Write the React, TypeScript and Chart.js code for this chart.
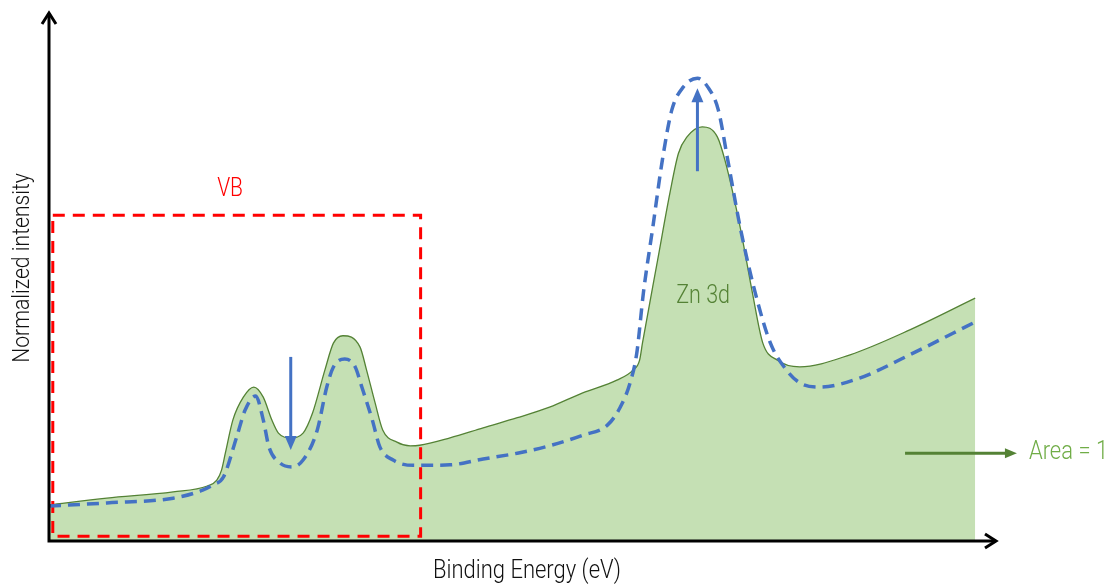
import React, { useEffect, useRef } from "react";
import { Chart, registerables } from "chart.js";

Chart.register(...registerables);

// Spectrum of the reference sample (solid, filled), arbitrary units
const refEnergy = [0, 6.1, 13.1, 16.7, 17.7, 18.2, 18.6, 19.4, 20.5, 21.6, 22.6, 23.5, 24.2, 25.5, 26.8, 27.8, 29.1, 30.0, 31.0, 32.8, 33.5, 34.4, 35.2, 36.7, 38.1, 39.1, 42.3, 45.8, 49.4, 52.8, 56.3, 59.9, 61.6, 62.3, 62.6, 64.2, 65.5, 66.4, 67.3, 68.9, 70.5, 71.3, 72.9, 74.2, 75.3, 76.8, 79.2, 84.5, 90.8, 97.7];
const refIntensity = [6.8, 8.1, 9.3, 10.4, 11.5, 13.4, 16.6, 22.9, 27.2, 29.1, 27.2, 22.9, 20.4, 19.5, 20.4, 24.2, 32.3, 37.4, 38.8, 36.7, 32.3, 26.1, 21.0, 18.7, 18.0, 18.1, 19.5, 21.4, 23.3, 25.3, 28.0, 30.4, 32.3, 34.2, 37.4, 53.1, 65.8, 73.3, 76.4, 78.3, 76.4, 72.0, 59.4, 46.9, 37.4, 34.2, 32.9, 35.2, 39.9, 45.9];

// Spectrum of the modified sample (dashed), arbitrary units
const modEnergy = [0, 6.1, 13.1, 16.2, 17.3, 18.4, 19.8, 20.7, 21.8, 22.6, 23.2, 24.4, 25.6, 26.8, 28.3, 29.3, 30.0, 31.2, 32.3, 33.0, 34.1, 34.9, 36.3, 38.4, 42.3, 45.8, 49.4, 52.8, 56.3, 58.9, 60.2, 61.3, 62.0, 62.7, 63.7, 64.7, 65.7, 66.9, 68.4, 69.5, 70.6, 71.6, 72.9, 74.5, 76.1, 77.8, 79.2, 81.3, 85.5, 90.8, 97.7];
const modIntensity = [6.6, 7.2, 8.1, 9.6, 10.6, 12.1, 19.7, 24.8, 27.4, 22.9, 17.8, 14.7, 14.0, 15.3, 21.0, 29.1, 32.9, 34.4, 32.9, 29.1, 22.9, 17.8, 15.3, 14.3, 14.4, 15.5, 16.6, 18.0, 20.0, 21.9, 25.1, 29.9, 35.5, 46.9, 59.4, 72.0, 81.5, 85.8, 87.5, 85.8, 81.5, 72.0, 59.4, 46.9, 37.4, 32.3, 29.9, 29.1, 30.8, 35.2, 41.4];

// Valence band window
const vbEnergyRange = [0.4, 39.2];
const vbIntensityRange = [0.9, 61.6];

// Intensity changes marked with arrows: [energy, from, to]
const vbChange = [25.5, 34.8, 17.2];
const znChange = [68.4, 69.9, 85.6];
// Area marker arrow: [fromEnergy, toEnergy, intensity]
const areaMarker = [90.3, 102.1, 16.6];

const FONT = "Roboto, 'Liberation Sans', sans-serif";
const GREEN_LINE = "#548235";
const GREEN_FILL = "#C5E0B4";
const GREEN_TEXT = "#70AD47";
const BLUE = "#4472C4";
const RED = "#FF0000";

function pts(xs: number[], ys: number[]) {
  return xs.map((x, i) => ({ x, y: ys[i] }));
}

function arrowHead(ctx: CanvasRenderingContext2D, tipX: number, tipY: number, dx: number, dy: number, len: number, half: number) {
  const bx = tipX - dx * len;
  const by = tipY - dy * len;
  ctx.beginPath();
  ctx.moveTo(tipX, tipY);
  ctx.lineTo(bx - dy * half, by + dx * half);
  ctx.lineTo(bx + dy * half, by - dx * half);
  ctx.closePath();
  ctx.fill();
}

// Condensed text: draw with a horizontal squeeze
function narrowText(ctx: CanvasRenderingContext2D, text: string, x: number, y: number, squeeze: number) {
  ctx.save();
  ctx.translate(x, y);
  ctx.scale(squeeze, 1);
  ctx.fillText(text, 0, 0);
  ctx.restore();
}

const vbBoxPlugin = {
  id: "vbBox",
  afterDatasetDraw(chart: any, args: any) {
    if (args.index !== 1) return;
    const { ctx, scales } = chart;
    const x0 = scales.x.getPixelForValue(vbEnergyRange[0]);
    const x1 = scales.x.getPixelForValue(vbEnergyRange[1]);
    const y0 = scales.y.getPixelForValue(vbIntensityRange[1]);
    const y1 = scales.y.getPixelForValue(vbIntensityRange[0]);
    ctx.save();
    ctx.strokeStyle = RED;
    ctx.lineWidth = 3;
    ctx.setLineDash([12, 8]);
    ctx.strokeRect(x0, y0, x1 - x0, y1 - y0);
    ctx.restore();
  },
};

const decorPlugin = {
  id: "decor",
  afterDraw(chart: any) {
    const { ctx, scales, chartArea } = chart;
    const sx = (v: number) => scales.x.getPixelForValue(v);
    const sy = (v: number) => scales.y.getPixelForValue(v);
    ctx.save();

    // Intensity change arrows
    ctx.strokeStyle = BLUE;
    ctx.fillStyle = BLUE;
    ctx.lineWidth = 3;
    ctx.setLineDash([]);
    {
      const x = sx(vbChange[0]);
      const yFrom = sy(vbChange[1]);
      const yTo = sy(vbChange[2]);
      ctx.beginPath();
      ctx.moveTo(x, yFrom);
      ctx.lineTo(x, yTo - 10);
      ctx.stroke();
      arrowHead(ctx, x, yTo, 0, 1, 14, 6);
    }
    {
      const x = sx(znChange[0]);
      const yFrom = sy(znChange[1]);
      const yTo = sy(znChange[2]);
      ctx.beginPath();
      ctx.moveTo(x, yFrom);
      ctx.lineTo(x, yTo + 10);
      ctx.stroke();
      arrowHead(ctx, x, yTo, 0, -1, 14, 6);
    }

    // Area marker arrow
    ctx.strokeStyle = GREEN_LINE;
    ctx.fillStyle = GREEN_LINE;
    ctx.lineWidth = 3;
    {
      const xA = sx(areaMarker[0]);
      const xB = sx(areaMarker[1]);
      const y = sy(areaMarker[2]);
      ctx.beginPath();
      ctx.moveTo(xA, y);
      ctx.lineTo(xB - 8, y);
      ctx.stroke();
      arrowHead(ctx, xB, y, 1, 0, 12, 5);
    }

    // Axes with open arrow heads
    const L = chartArea.left;
    const B = chartArea.bottom;
    const T = chartArea.top;
    const R = chartArea.right;
    ctx.strokeStyle = "#000";
    ctx.lineWidth = 3;
    ctx.lineCap = "butt";
    ctx.beginPath();
    ctx.moveTo(L, B + 1.5);
    ctx.lineTo(L, T + 1);
    ctx.moveTo(L - 1.5, B);
    ctx.lineTo(R - 1, B);
    ctx.stroke();
    ctx.lineJoin = "miter";
    ctx.beginPath();
    ctx.moveTo(L - 7, T + 12);
    ctx.lineTo(L, T + 1);
    ctx.lineTo(L + 7, T + 12);
    ctx.moveTo(R - 12, B - 7);
    ctx.lineTo(R - 1, B);
    ctx.lineTo(R - 12, B + 7);
    ctx.stroke();

    // Annotations
    ctx.textBaseline = "middle";
    ctx.textAlign = "center";
    ctx.font = `300 25px ${FONT}`;
    ctx.fillStyle = RED;
    narrowText(ctx, "VB", sx(19.1), sy(66.4), 0.84);
    ctx.fillStyle = GREEN_LINE;
    narrowText(ctx, "Zn 3d", sx(69.0), sy(46.1), 0.86);
    ctx.textAlign = "left";
    ctx.fillStyle = GREEN_TEXT;
    narrowText(ctx, "Area = 1", sx(areaMarker[1]) + 12, sy(areaMarker[2]), 0.88);

    // Axis titles
    ctx.fillStyle = "#111";
    ctx.textAlign = "center";
    ctx.font = `300 25px ${FONT}`;
    narrowText(ctx, "Binding Energy (eV)", 527, B + 31, 0.88);
    ctx.save();
    ctx.translate(L - 26, 268);
    ctx.rotate(-Math.PI / 2);
    ctx.font = `300 23px ${FONT}`;
    narrowText(ctx, "Normalized intensity", 0, 0, 0.92);
    ctx.restore();

    ctx.restore();
  },
};

export default function App() {
  const ref = useRef<HTMLCanvasElement | null>(null);

  useEffect(() => {
    document.body.style.margin = "0";
    const canvas = ref.current;
    if (!canvas) return;
    const chart = new Chart(canvas, {
      type: "line",
      data: {
        datasets: [
          {
            label: "modified",
            data: pts(modEnergy, modIntensity),
            borderColor: BLUE,
            borderWidth: 3.5,
            borderDash: [12, 7],
            pointRadius: 0,
            fill: false,
            cubicInterpolationMode: "monotone",
            clip: false as any,
            order: 0,
          },
          {
            label: "reference",
            data: pts(refEnergy, refIntensity),
            borderColor: GREEN_LINE,
            borderWidth: 1.3,
            backgroundColor: GREEN_FILL,
            pointRadius: 0,
            fill: "origin",
            cubicInterpolationMode: "monotone",
            clip: false as any,
            order: 1,
          },
        ],
      },
      options: {
        responsive: false,
        animation: false,
        layout: { padding: { left: 49, top: 12, right: 118, bottom: 45 } },
        scales: {
          x: { type: "linear", min: 0, max: 100, display: false },
          y: { type: "linear", min: 0, max: 100, display: false },
        },
        plugins: { legend: { display: false }, tooltip: { enabled: false } },
        events: [],
      },
      plugins: [vbBoxPlugin, decorPlugin],
    });
    return () => chart.destroy();
  }, []);

  return (
    <div style={{ position: "fixed", left: 0, top: 0, width: 1115, height: 586, background: "#fff" }}>
      <canvas ref={ref} width={1115} height={586} style={{ display: "block" }} />
    </div>
  );
}
